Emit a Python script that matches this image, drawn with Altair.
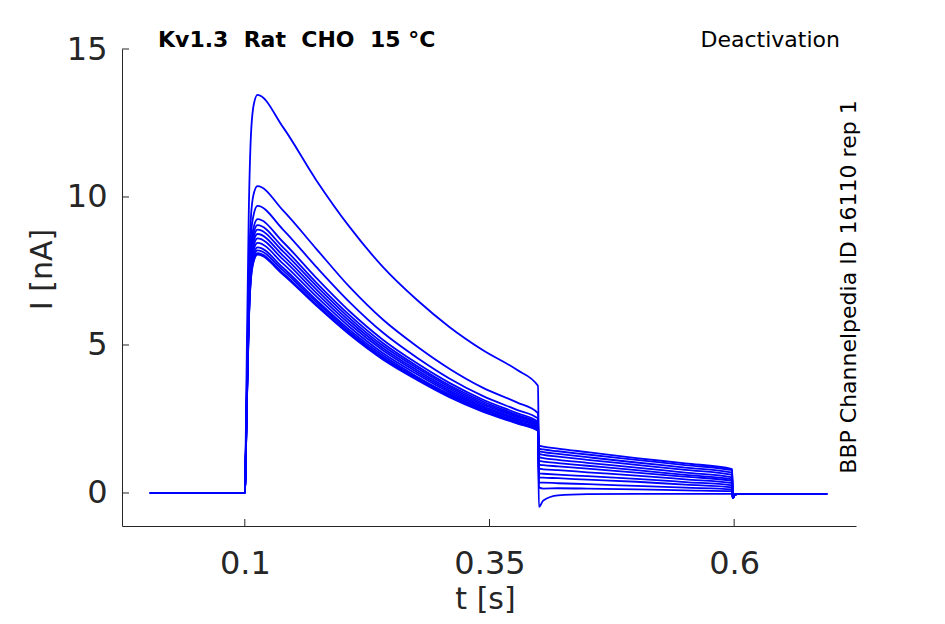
import altair as alt
import pandas as pd

# ---- time grids (s) ----
T_PRE = [0.003, 0.0995]
T_STEP = [0.1, 0.1005, 0.102, 0.104, 0.106, 0.109, 0.113, 0.139, 0.173,
          0.207, 0.241, 0.276, 0.309, 0.343, 0.378, 0.3995]
T_TAIL = [0.4005, 0.405, 0.42, 0.45, 0.5, 0.55, 0.598]
T_POST = [0.5985, 0.601, 0.605, 0.695]

# ---- current (nA) during activation step, one list per sweep ----
STEP_1 = [0, 0.70, 4.70, 9.40, 11.90, 13.10, 13.45, 12.36, 10.57, 8.99, 7.64, 6.52, 5.61, 4.83, 4.16, 3.62]
STEP_2 = [0, 0.50, 3.60, 7.30, 9.20, 10.10, 10.37, 9.55, 8.25, 6.96, 5.86, 4.95, 4.20, 3.56, 3.06, 2.70]
STEP_3 = [0, 0.50, 3.40, 6.80, 8.60, 9.40, 9.70, 8.90, 7.64, 6.45, 5.42, 4.57, 3.87, 3.28, 2.81, 2.52]
STEP_4 = [0, 0.46, 3.24, 6.48, 8.19, 8.97, 9.25, 8.48, 7.27, 6.14, 5.18, 4.38, 3.72, 3.16, 2.70, 2.41]
STEP_5 = [0, 0.45, 3.17, 6.34, 8.01, 8.78, 9.05, 8.30, 7.11, 6.01, 5.07, 4.29, 3.64, 3.10, 2.64, 2.36]
STEP_6 = [0, 0.45, 3.12, 6.23, 7.88, 8.63, 8.90, 8.16, 7.00, 5.91, 4.98, 4.22, 3.58, 3.04, 2.60, 2.32]
STEP_7 = [0, 0.44, 3.06, 6.13, 7.74, 8.49, 8.75, 8.02, 6.88, 5.81, 4.90, 4.15, 3.52, 2.99, 2.56, 2.28]
STEP_8 = [0, 0.43, 3.01, 6.02, 7.61, 8.34, 8.60, 7.89, 6.76, 5.71, 4.82, 4.08, 3.46, 2.94, 2.51, 2.24]
STEP_9 = [0, 0.42, 2.96, 5.92, 7.48, 8.20, 8.45, 7.75, 6.64, 5.61, 4.73, 4.01, 3.40, 2.89, 2.47, 2.21]
STEP_10 = [0, 0.42, 2.91, 5.81, 7.35, 8.05, 8.30, 7.61, 6.52, 5.51, 4.65, 3.93, 3.34, 2.84, 2.42, 2.17]
STEP_11 = [0, 0.41, 2.87, 5.74, 7.26, 7.95, 8.20, 7.52, 6.45, 5.44, 4.59, 3.89, 3.30, 2.80, 2.39, 2.14]
STEP_12 = [0, 0.41, 2.84, 5.67, 7.17, 7.86, 8.10, 7.43, 6.37, 5.38, 4.54, 3.84, 3.26, 2.77, 2.37, 2.11]
STEP_13 = [0, 0.40, 2.82, 5.64, 7.12, 7.81, 8.05, 7.38, 6.33, 5.35, 4.51, 3.82, 3.24, 2.75, 2.35, 2.10]

# ---- tail currents (nA) during deactivation step ----
TAIL_1 = [1.60, 1.57, 1.50, 1.38, 1.18, 1.00, 0.81]
TAIL_2 = [1.50, 1.47, 1.41, 1.30, 1.12, 0.94, 0.77]
TAIL_3 = [1.41, 1.38, 1.32, 1.21, 1.03, 0.86, 0.69]
TAIL_4 = [1.32, 1.29, 1.23, 1.12, 0.95, 0.78, 0.61]
TAIL_5 = [1.21, 1.18, 1.12, 1.02, 0.86, 0.69, 0.53]
TAIL_6 = [1.09, 1.06, 1.01, 0.92, 0.77, 0.61, 0.46]
TAIL_7 = [0.96, 0.94, 0.90, 0.82, 0.69, 0.55, 0.41]
TAIL_8 = [0.82, 0.80, 0.77, 0.70, 0.59, 0.46, 0.33]
TAIL_9 = [0.66, 0.65, 0.62, 0.57, 0.48, 0.37, 0.26]
TAIL_10 = [0.53, 0.52, 0.50, 0.45, 0.38, 0.28, 0.19]
TAIL_11 = [0.35, 0.35, 0.33, 0.30, 0.24, 0.18, 0.12]
TAIL_12 = [0.19, 0.15, 0.16, 0.15, 0.12, 0.09, 0.06]
TAIL_13 = [-0.47, -0.25, -0.08, -0.04, -0.03, -0.03, -0.03]

PRE_VALUES = [0.0, 0.0]
POST_VALUES = [-0.17, -0.05, -0.03, -0.03]

STEPS = [STEP_1, STEP_2, STEP_3, STEP_4, STEP_5, STEP_6, STEP_7,
         STEP_8, STEP_9, STEP_10, STEP_11, STEP_12, STEP_13]
TAILS = [TAIL_1, TAIL_2, TAIL_3, TAIL_4, TAIL_5, TAIL_6, TAIL_7,
         TAIL_8, TAIL_9, TAIL_10, TAIL_11, TAIL_12, TAIL_13]

X_TICKS = [0.1, 0.35, 0.6]
Y_TICKS = [0, 5, 10, 15]

TITLE_LEFT = "Kv1.3\u00a0\u00a0Rat\u00a0\u00a0CHO\u00a0\u00a015\u00a0°C"
TITLE_RIGHT = "Deactivation"
SIDE_LABEL = "BBP Channelpedia ID 16110 rep 1"

rows = []
for k, (step, tail) in enumerate(zip(STEPS, TAILS)):
    ts = T_PRE + T_STEP + T_TAIL + T_POST
    vs = PRE_VALUES + step + tail + POST_VALUES
    for i, (t, v) in enumerate(zip(ts, vs)):
        rows.append({"trace": k + 1, "idx": i, "t": t, "I": v})
df = pd.DataFrame(rows)

W, H = 734, 477
XDOM = [-0.0255, 0.7245]
YDOM = [-1.115, 15]
FONT = "DejaVu Sans"
AX = "#262626"

xscale = alt.Scale(domain=XDOM, nice=False, zero=False)
yscale = alt.Scale(domain=YDOM, nice=False, zero=False)

lines = alt.Chart(df).mark_line(color="#0000ff", strokeWidth=1.8, clip=True,
                                interpolate="monotone").encode(
    x=alt.X("t:Q", scale=xscale,
            axis=alt.Axis(values=X_TICKS, format=".2~f", title="t [s]", ticks=False,
                          grid=False, labelPadding=22, titleX=363, titleY=73,
                          titleBaseline="middle", titleAlign="center")),
    y=alt.Y("I:Q", scale=yscale,
            axis=alt.Axis(values=Y_TICKS, format="d", title="I [nA]", ticks=False,
                          grid=False, labelPadding=15, titleX=-80, titleY=220,
                          titleAngle=270, titleBaseline="middle", titleAlign="center")),
    detail="trace:N",
    order="idx:Q",
)

xt = alt.Chart(pd.DataFrame({"v": X_TICKS})).mark_rule(color=AX, strokeWidth=1).encode(
    x=alt.X("v:Q", scale=xscale), y=alt.value(H), y2=alt.value(H - 7))
yt = alt.Chart(pd.DataFrame({"v": Y_TICKS})).mark_rule(color=AX, strokeWidth=1).encode(
    y=alt.Y("v:Q", scale=yscale), x=alt.value(0), x2=alt.value(7))

t1 = alt.Chart(pd.DataFrame({"s": [TITLE_LEFT]})).mark_text(
    font=FONT, fontSize=22, fontWeight="bold", color="black", align="left",
    baseline="alphabetic").encode(x=alt.value(36), y=alt.value(-2), text="s:N")
t2 = alt.Chart(pd.DataFrame({"s": [TITLE_RIGHT]})).mark_text(
    font=FONT, fontSize=22, color="black", align="right",
    baseline="alphabetic").encode(x=alt.value(718), y=alt.value(-2), text="s:N")
t3 = alt.Chart(pd.DataFrame({"s": [SIDE_LABEL]})).mark_text(
    font=FONT, fontSize=22, color="black", align="center", baseline="middle",
    angle=270).encode(x=alt.value(727), y=alt.value(238), text="s:N")

chart = alt.layer(lines, xt, yt, t1, t2, t3).properties(
    width=W, height=H,
    autosize=alt.AutoSizeParams(type="none"),
    padding={"left": 114, "top": 41, "right": 75, "bottom": 92},
    background="white",
).configure_view(stroke=None).configure_axis(
    labelFont=FONT, labelFontSize=32, labelColor=AX,
    titleFont=FONT, titleFontSize=30, titleFontWeight="normal", titleColor=AX,
    domainColor=AX, domainWidth=1,
)

chart.save("out.html", embed_options={"renderer": "svg", "actions": False})
